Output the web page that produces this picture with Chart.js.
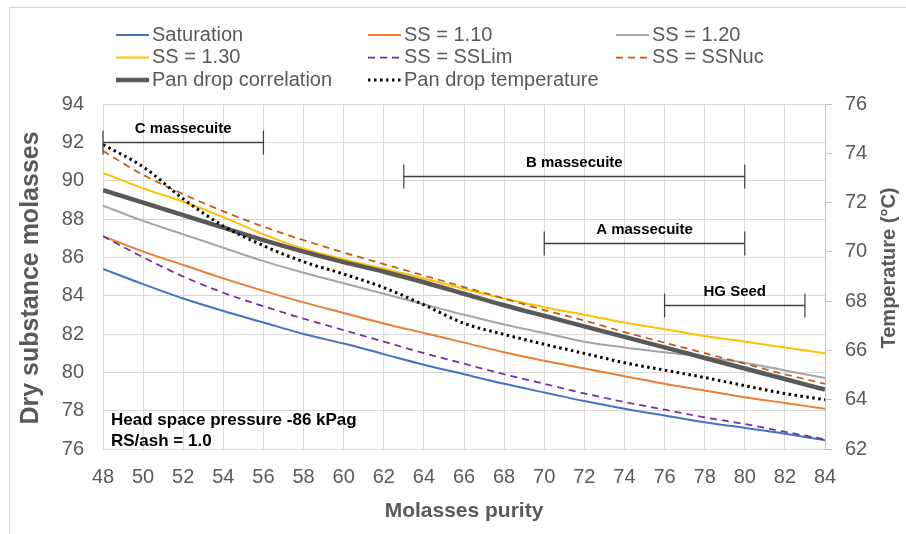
<!DOCTYPE html>
<html>
<head>
<meta charset="utf-8">
<script src="https://cdn.jsdelivr.net/npm/chart.js@4.4.1/dist/chart.umd.min.js"></script>
<style>
  html, body { margin: 0; padding: 0; background: #fff; }
  canvas { display: block; }
</style>
</head>
<body>
<canvas id="chart" width="906" height="534"></canvas>
<script>
// molasses purity (x axis)
const purity = [48, 50, 52, 54, 56, 58, 60, 62, 64, 66, 68, 70, 72, 74, 76, 78, 80, 82, 84];

// dry substance of molasses (left axis)
const saturation = [85.4, 84.6, 83.85, 83.2, 82.6, 82.0, 81.5, 80.95, 80.4, 79.9, 79.4, 78.95, 78.5, 78.1, 77.75, 77.4, 77.1, 76.8, 76.45];
const ss110 = [87.1, 86.3, 85.6, 84.9, 84.25, 83.65, 83.1, 82.55, 82.05, 81.55, 81.05, 80.6, 80.2, 79.8, 79.4, 79.05, 78.7, 78.4, 78.1];
const ss120 = [88.7, 87.9, 87.2, 86.5, 85.8, 85.2, 84.65, 84.1, 83.55, 83.0, 82.5, 82.05, 81.6, 81.3, 81.05, 80.8, 80.5, 80.1, 79.7];
const ss130 = [90.4, 89.6, 88.9, 88.1, 87.2, 86.45, 85.9, 85.4, 84.9, 84.35, 83.85, 83.4, 83.0, 82.6, 82.25, 81.9, 81.6, 81.3, 81.0];
const ssLim = [87.1, 86.0, 85.0, 84.15, 83.45, 82.8, 82.2, 81.6, 81.0, 80.45, 79.9, 79.4, 78.9, 78.45, 78.05, 77.65, 77.3, 76.9, 76.5];
const ssNuc = [91.55, 90.3, 89.3, 88.4, 87.6, 86.9, 86.25, 85.65, 85.05, 84.45, 83.85, 83.25, 82.7, 82.1, 81.55, 81.0, 80.45, 79.9, 79.4];
const panDropCorr = [89.5, 88.85, 88.2, 87.55, 86.9, 86.3, 85.75, 85.25, 84.7, 84.1, 83.5, 82.95, 82.4, 81.85, 81.3, 80.75, 80.2, 79.65, 79.1];

// temperature (right axis)
const panDropTemp = [74.35, 73.45, 72.15, 71.05, 70.25, 69.6, 69.1, 68.55, 67.85, 67.1, 66.65, 66.25, 65.88, 65.5, 65.2, 64.9, 64.57, 64.25, 64.0];

// massecuite ranges drawn as bars
const rangeNames = ['C massecuite', 'B massecuite', 'A massecuite', 'HG Seed'];
const rangeStart = [48, 63, 70, 76];
const rangeEnd = [56, 80, 80, 83];
const rangeLevel = [92.0, 90.25, 86.75, 83.5];

const noteLines = ['Head space pressure -86 kPag', 'RS/ash = 1.0'];

const FONT = '"Liberation Sans", Arial, sans-serif';
const GREY = '#595959';

function pts(arr) {
    return purity.map((p, i) => ({ x: p, y: arr[i] }));
}

const series = [
    { label: 'Saturation', data: saturation, color: '#4472C4', width: 2, dash: [] },
    { label: 'SS = 1.10', data: ss110, color: '#ED7D31', width: 2, dash: [] },
    { label: 'SS = 1.20', data: ss120, color: '#A5A5A5', width: 2, dash: [] },
    { label: 'SS = 1.30', data: ss130, color: '#FFC000', width: 2, dash: [] },
    { label: 'SS = SSLim', data: ssLim, color: '#7030A0', width: 1.75, dash: [7, 5] },
    { label: 'SS = SSNuc', data: ssNuc, color: '#C55A11', width: 1.75, dash: [7, 5] },
    { label: 'Pan drop correlation', data: panDropCorr, color: '#595959', width: 4.5, dash: [] },
    { label: 'Pan drop temperature', data: panDropTemp, color: '#000000', width: 3, dash: [2.5, 3.5], axis: 'y2' }
];

const extras = {
    id: 'extras',
    beforeDraw(chart) {
        const c = chart.ctx;
        c.save();
        c.fillStyle = '#fff';
        c.fillRect(0, 0, chart.width, chart.height);
        c.strokeStyle = '#d9d9d9';
        c.lineWidth = 1;
        c.strokeRect(9.5, 7.5, chart.width, chart.height);
        c.restore();
    },
    afterDraw(chart) {
        const c = chart.ctx;
        const xs = chart.scales.x, ys = chart.scales.y;
        c.save();

        // range bars
        c.strokeStyle = '#404040';
        c.fillStyle = '#000';
        c.font = 'bold 15px ' + FONT;
        c.textAlign = 'center';
        c.textBaseline = 'middle';
        rangeNames.forEach((name, i) => {
            const x0 = xs.getPixelForValue(rangeStart[i]);
            const x1 = xs.getPixelForValue(rangeEnd[i]);
            const py = Math.round(ys.getPixelForValue(rangeLevel[i])) + 0.5;
            c.lineWidth = 1.5;
            c.beginPath();
            c.moveTo(x0, py); c.lineTo(x1, py);
            c.stroke();
            c.lineWidth = 1.2;
            c.beginPath();
            c.moveTo(x0, py - 12); c.lineTo(x0, py + 12);
            c.moveTo(x1, py - 12); c.lineTo(x1, py + 12);
            c.stroke();
            c.fillText(name, (x0 + x1) / 2, py - 14);
        });

        // note text
        c.textAlign = 'left';
        c.font = 'bold 17px ' + FONT;
        c.fillText(noteLines[0], 111, 420);
        c.fillText(noteLines[1], 111, 441);

        // axis titles
        c.fillStyle = GREY;
        c.font = 'bold 21px ' + FONT;
        c.textAlign = 'center';
        c.fillText('Molasses purity', (chart.chartArea.left + chart.chartArea.right) / 2, 511);
        c.save();
        c.translate(31, 278);
        c.rotate(-Math.PI / 2);
        c.font = 'bold 25px ' + FONT;
        c.fillText('Dry substance molasses', 0, 0);
        c.restore();
        c.save();
        c.translate(889, 268);
        c.rotate(-Math.PI / 2);
        c.font = 'bold 20px ' + FONT;
        c.fillText('Temperature (°C)', 0, 0);
        c.restore();

        // legend, three columns
        const colX = [116, 368, 616];
        const rowY = [35, 57.5, 80];
        c.font = '20px ' + FONT;
        c.textAlign = 'left';
        chart.data.datasets.forEach((ds, i) => {
            const lx = colX[i % 3], ly = rowY[Math.floor(i / 3)];
            c.strokeStyle = ds.borderColor;
            c.lineWidth = ds.borderWidth;
            c.setLineDash(ds.borderDash || []);
            c.beginPath();
            c.moveTo(lx, ly); c.lineTo(lx + 33, ly);
            c.stroke();
            c.setLineDash([]);
            c.fillStyle = GREY;
            c.fillText(ds.label, lx + 36, ly);
        });
        c.restore();
    }
};

const datasets = series.map((s, i) => ({
    label: s.label,
    data: pts(s.data),
    borderColor: s.color,
    backgroundColor: s.color,
    borderWidth: s.width,
    borderDash: s.dash,
    pointRadius: 0,
    fill: false,
    cubicInterpolationMode: 'monotone',
    yAxisID: s.axis || 'y',
    order: series.length - i
}));

new Chart(document.getElementById('chart'), {
    type: 'line',
    data: { datasets: datasets },
    options: {
        responsive: false,
        animation: false,
        layout: { padding: { top: 104, left: 0, right: 0, bottom: 0 } },
        plugins: {
            legend: { display: false },
            tooltip: { enabled: false }
        },
        scales: {
            x: {
                type: 'linear',
                min: 48, max: 84,
                afterFit(s) { s.height = 85; },
                ticks: { stepSize: 2, color: GREY, font: { family: FONT, size: 20 }, padding: 16, maxRotation: 0 },
                grid: { color: '#d9d9d9', drawTicks: false },
                border: { color: '#d9d9d9' }
            },
            y: {
                position: 'left',
                min: 76, max: 94,
                afterFit(s) { s.width = 103; },
                ticks: { stepSize: 2, color: GREY, font: { family: FONT, size: 20 }, padding: 19 },
                grid: { color: '#d9d9d9', drawTicks: false },
                border: { color: '#d9d9d9' }
            },
            y2: {
                position: 'right',
                min: 62, max: 76,
                afterFit(s) { s.width = 81; },
                ticks: { stepSize: 2, color: GREY, font: { family: FONT, size: 20 }, padding: 13 },
                grid: { drawOnChartArea: false, color: '#bfbfbf', tickLength: 7 },
                border: { color: '#bfbfbf' }
            }
        }
    },
    plugins: [extras]
});
</script>
</body>
</html>
